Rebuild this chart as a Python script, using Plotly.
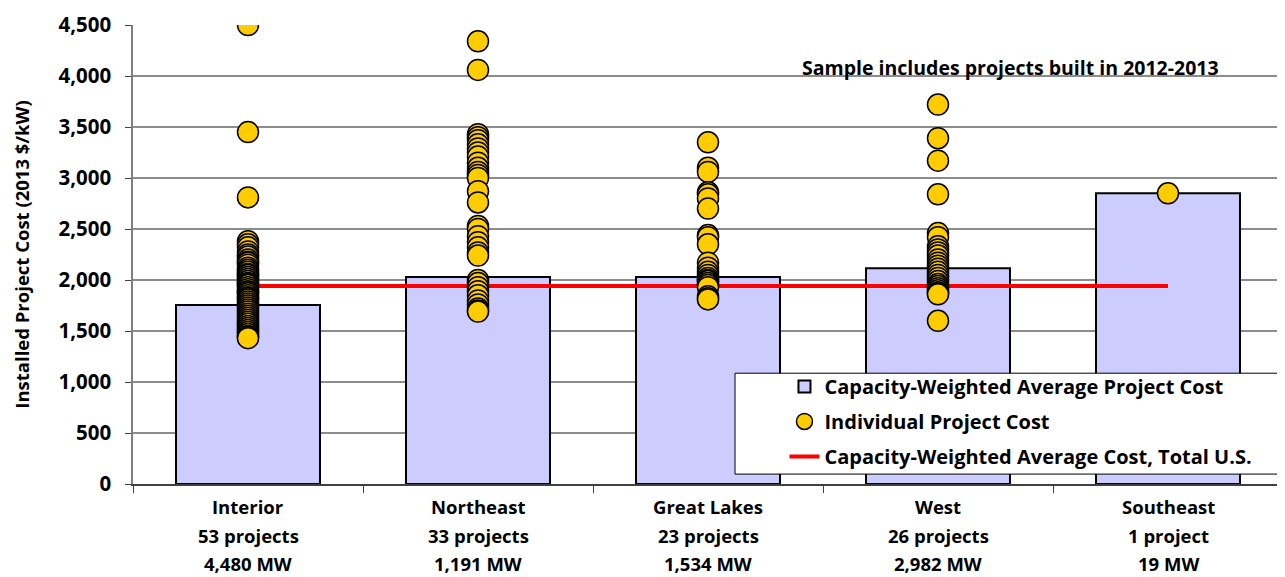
import plotly.graph_objects as go

regions = ["Interior", "Northeast", "Great Lakes", "West", "Southeast"]
project_counts = ["53 projects", "33 projects", "23 projects", "26 projects", "1 project"]
capacities = ["4,480 MW", "1,191 MW", "1,534 MW", "2,982 MW", "19 MW"]
avg_cost = [1755, 2030, 2030, 2115, 2850]
us_avg_cost = 1940

interior_costs = [4500, 3450, 2810, 2380, 2350, 2320, 2280, 2250, 2230, 2200, 2180, 2170, 2150, 2120,
                  2100, 2080, 2060, 2050, 2030, 2010, 1990, 1970, 1960, 1950, 1930, 1910, 1890, 1880,
                  1870, 1850, 1830, 1820, 1810, 1790, 1770, 1750, 1730, 1710, 1690, 1670, 1650, 1630,
                  1610, 1590, 1570, 1550, 1530, 1510, 1490, 1470, 1450, 1440, 1430]
northeast_costs = [4340, 4060, 3430, 3400, 3370, 3330, 3290, 3250, 3210, 3150, 3100, 3060, 3030,
                   3000, 2870, 2760, 2530, 2500, 2430, 2370, 2320, 2270, 2240, 2000, 1970, 1930,
                   1890, 1850, 1800, 1760, 1720, 1700, 1690]
great_lakes_costs = [3350, 3100, 3060, 2860, 2840, 2800, 2700, 2440, 2420, 2350, 2170, 2120, 2080,
                     2050, 2020, 2000, 1990, 1970, 1950, 1930, 1840, 1820, 1810]
west_costs = [3720, 3390, 3170, 2840, 2460, 2420, 2330, 2300, 2270, 2240, 2200, 2170, 2140, 2110,
              2080, 2050, 2020, 1990, 1960, 1940, 1920, 1900, 1880, 1870, 1860, 1600]
southeast_costs = [2850]

project_costs = [interior_costs, northeast_costs, great_lakes_costs, west_costs, southeast_costs]

FONT = "Open Sans"

dot_x, dot_y = [], []
for r, costs in zip(regions, project_costs):
    dot_x += [r] * len(costs)
    dot_y += costs

fig = go.Figure()
fig.add_trace(go.Bar(
    x=regions, y=avg_cost, name="Capacity-Weighted Average Project Cost",
    marker=dict(color="#CCCCFF", line=dict(color="black", width=2)),
    legendgroup="a", legendrank=1))
fig.add_trace(go.Scatter(
    x=[regions[0], regions[-1]], y=[us_avg_cost, us_avg_cost], mode="lines",
    name="Capacity-Weighted Average Cost, Total U.S.",
    line=dict(color="#FF0000", width=4), legendgroup="c", legendrank=3))
fig.add_trace(go.Scatter(
    x=dot_x, y=dot_y, mode="markers", name="Individual Project Cost",
    marker=dict(color="#FFCC00", size=21, line=dict(color="black", width=1.5)),
    legendgroup="b", legendrank=2))

# x labels, three lines per region
for r, n, mw in zip(regions, project_counts, capacities):
    for i, txt in enumerate([r, n, mw]):
        fig.add_annotation(x=r, y=0, xref="x", yref="paper", text=txt, showarrow=False,
                           yanchor="middle", yshift=-22.5 - 28.5 * i, borderpad=0,
                           font=dict(family=FONT, size=18.5, color="black", weight="bold"))

fig.add_annotation(x=0.763, y=0.942, xref="paper", yref="paper", xanchor="center",
                   text="Sample includes projects built in 2012-2013", showarrow=False,
                   font=dict(family=FONT, size=19.5, color="black", weight="bold"))

# legend frame drawn as a shape so it can be as wide as in the original
fig.add_shape(type="rect", xref="paper", yref="paper", x0=0.5235, x1=0.999, y0=0.0216, y1=0.2414,
              line=dict(color="black", width=1), fillcolor="white", layer="above")

# page body has an 8px margin, so the figure is 8px smaller and the margins shrink to match
fig.update_layout(
    width=1277, height=569,
    margin=dict(l=125, r=2, t=12, b=93),
    paper_bgcolor="white", plot_bgcolor="white",
    bargap=0.374,
    showlegend=True,
    legend=dict(x=0.5665, y=0.255, xanchor="left", yanchor="top",
                bgcolor="rgba(0,0,0,0)", borderwidth=0,
                traceorder="grouped", tracegroupgap=6,
                font=dict(family=FONT, size=20, color="black", weight="bold")),
    font=dict(family=FONT, color="black"),
)
fig.update_xaxes(showticklabels=False, showline=True, linecolor="#404040", linewidth=1.5,
                 ticks="outside", tickson="boundaries", ticklen=7, tickcolor="#404040",
                 showgrid=False)
fig.update_yaxes(range=[0, 4500], dtick=500, tickformat=",", showline=True,
                 linecolor="#808080", linewidth=1.5, ticks="outside", ticklen=6,
                 tickcolor="#404040", gridcolor="#8C8C8C", gridwidth=1.5,
                 ticklabeloverflow="allow", ticklabelstandoff=10,
                 tickfont=dict(family=FONT, size=20.5, color="black", weight="bold"),
                 title=dict(text="Installed Project Cost (2013 $/kW)", standoff=24,
                            font=dict(family=FONT, size=18.5, color="black", weight="bold")))

fig.write_html("out.html")
